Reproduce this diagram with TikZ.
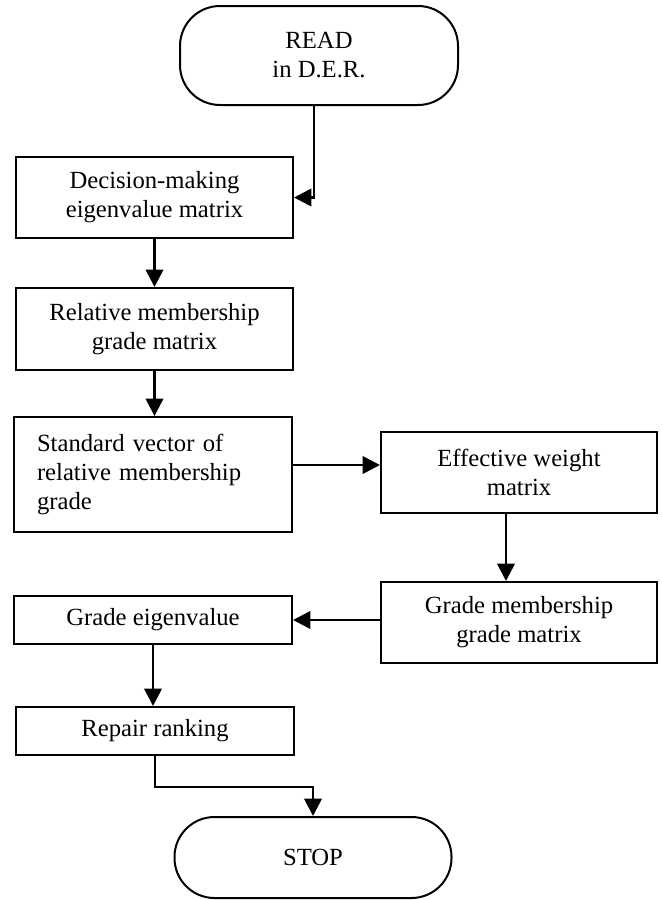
\documentclass[tikz,border=0pt]{standalone}
\usepackage{fontspec}
\setmainfont{Liberation Serif}
\usetikzlibrary{arrows.meta,calc}
\begin{document}
\begin{tikzpicture}[x=0.75pt,y=-0.75pt,
  box/.style={draw,line width=1.5pt,rectangle,inner sep=0pt,align=center,
    font=\fontsize{18.5}{21.75}\selectfont},
  term/.style={box,rounded corners=30pt},
  flow/.style={line width=2pt,-{Triangle[length=13pt,width=13pt]}}]
\useasboundingbox (0,0) rectangle (661,900);
\node[term,minimum width=208.5pt,minimum height=74.25pt] (read) at (319,55.5) {READ\\in D.E.R.};
\node[box,minimum width=207.75pt,minimum height=60.75pt] (b1) at (154.5,197.5) {Decision-making\\eigenvalue matrix};
\node[box,minimum width=207.75pt,minimum height=61.5pt] (b2) at (154.5,329) {Relative membership\\grade matrix};
\node[box,minimum width=208.5pt,minimum height=86.25pt,text width=174pt,align=left] (b3) at (153,474.5) {Standard vector of\\relative membership\\grade};
\node[box,minimum width=207pt,minimum height=60.75pt] (b4) at (519,472.5) {Effective weight\\matrix};
\node[box,minimum width=207pt,minimum height=60.75pt] (b5) at (519,622.5) {Grade membership\\grade matrix};
\node[box,minimum width=208.5pt,minimum height=36pt] (b6) at (153,620) {Grade eigenvalue};
\node[box,minimum width=208.5pt,minimum height=36pt] (b7) at (155,731) {Repair ranking};
\node[term,minimum width=207.75pt,minimum height=60.75pt] (stop) at (313,857.5) {STOP};
\coordinate (r0) at ($(read.south)+(-5,0)$);
\draw[flow] (r0) |- (b1.east);
\draw[flow] (b1.south) -- (b1.south |- b2.north);
\draw[flow] (b2.south) -- (b2.south |- b3.north);
\coordinate (h) at ($(b3.east)+(0,-9.5)$);
\draw[flow] (h) -- (h -| b4.west);
\coordinate (v) at ($(b4.south)+(-13,0)$);
\draw[flow] (v) -- (v |- b5.north);
\draw[flow] (b5.west |- b6.east) -- (b6.east);
\draw[flow] (b6.south) -- (b6.south |- b7.north);
\draw[flow] (b7.south) -- ++(0,31) -| (stop.north);
\end{tikzpicture}
\end{document}
